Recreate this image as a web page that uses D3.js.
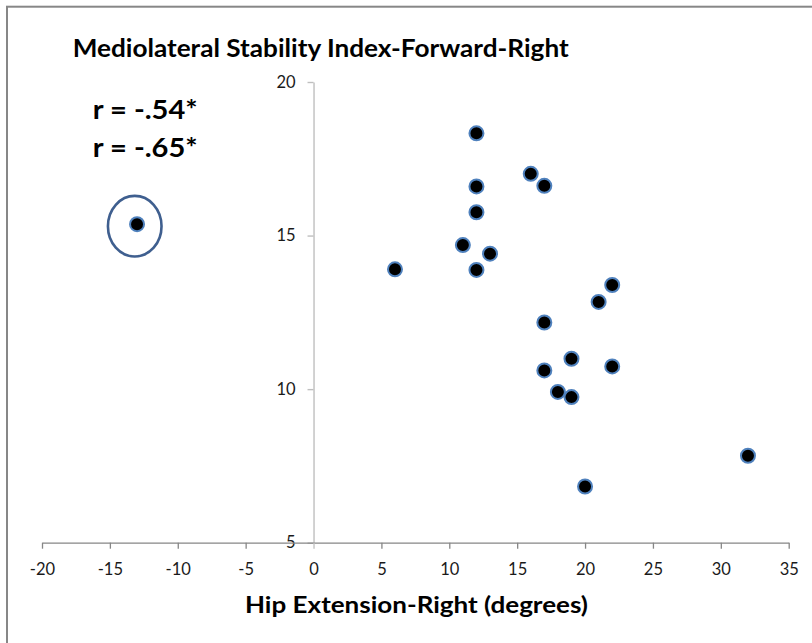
<!DOCTYPE html>
<html>
<head>
<meta charset="utf-8">
<script src="https://cdn.jsdelivr.net/npm/d3@7"></script>
<style>
  html, body { margin: 0; padding: 0; background: #fff; }
  svg { display: block; }
</style>
</head>
<body>
<div id="chart"></div>
<script>
// ---- data ----
const hipExtension = [-13, 6, 11, 12, 12, 12, 12, 13, 16, 17, 17, 17, 18, 19, 19, 20, 21, 22, 22, 32];
const stabilityIndex = [15.37, 13.90, 14.69, 18.33, 16.60, 15.76, 13.88, 14.41, 17.01, 16.62, 12.17, 10.61, 9.91, 10.99, 9.74, 6.83, 12.84, 13.39, 10.74, 7.83];
const xTicks = [-20, -15, -10, -5, 0, 5, 10, 15, 20, 25, 30, 35];
const yTicks = [5, 10, 15, 20];
const titleText = "Mediolateral Stability Index-Forward-Right";
const corrLabels = ["r = -.54*", "r = -.65*"];
const xAxisTitle = "Hip Extension-Right (degrees)";
const outlierIndex = 0;

// ---- layout ----
const W = 812, H = 643;
const svg = d3.select("#chart").append("svg").attr("width", W).attr("height", H);
svg.append("rect").attr("width", W).attr("height", H).attr("fill", "#fff");

// outer frame (only top and left visible)
svg.append("rect")
  .attr("x", 7).attr("y", 6.7).attr("width", W + 20).attr("height", H + 20)
  .attr("fill", "none").attr("stroke", "#878787").attr("stroke-width", 2);

const x = d3.scaleLinear().domain([-20, 35]).range([42, 788.7]);
const y = d3.scaleLinear().domain([5, 20]).range([542.7, 82]);

const tickFont = "Lato, 'Open Sans', sans-serif";

// y axis at x = 0 (lighter grey, extends below x axis like the original)
const gy = svg.append("g")
  .attr("transform", `translate(${x(0)},0)`)
  .call(d3.axisLeft(y).tickValues(yTicks).tickSize(6).tickSizeOuter(0).tickPadding(12).tickFormat(d3.format("d")));
// x axis at y = 5
const gx = svg.append("g")
  .attr("transform", `translate(0,${y(5)})`)
  .call(d3.axisBottom(x).tickValues(xTicks).tickSize(6).tickSizeOuter(0).tickPadding(14.5).tickFormat(d3.format("d")));

gy.select(".domain").attr("stroke", "#bfbfbf").attr("stroke-width", 1.4);
gy.selectAll(".tick line").attr("stroke", "#bfbfbf").attr("stroke-width", 1.4);
gx.select(".domain").attr("stroke", "#868686").attr("stroke-width", 1.3);
gx.selectAll(".tick line").attr("stroke", "#868686").attr("stroke-width", 1.3);
gx.selectAll(".tick").filter(d => d === 0).select("line").attr("stroke", "#bfbfbf");

[gx, gy].forEach(g => {
  g.attr("font-size", 16.5).attr("font-family", tickFont);
  g.selectAll(".tick text").attr("fill", "#1a1a1a")
    .attr("font-size", 16.5)
    .style("font-family", tickFont).style("font-size", "16.5px");
});
// hyphen-minus like the original
gx.selectAll(".tick text").text(d => String(d));

// points
svg.append("g").selectAll("circle")
  .data(hipExtension.map((v, i) => [v, stabilityIndex[i]]))
  .join("circle")
  .attr("cx", d => x(d[0]))
  .attr("cy", d => y(d[1]))
  .attr("r", 7)
  .attr("fill", "#000")
  .attr("stroke", "#4f81bd")
  .attr("stroke-width", 2);

// ellipse around outlier
svg.append("ellipse")
  .attr("cx", x(hipExtension[outlierIndex]) - 2.3)
  .attr("cy", y(stabilityIndex[outlierIndex]) + 2)
  .attr("rx", 26.8).attr("ry", 30.3)
  .attr("fill", "none").attr("stroke", "#3f5f8f").attr("stroke-width", 2.6);

const boldFont = "Lato, 'Open Sans', sans-serif";

// chart title
svg.append("text")
  .attr("x", 72.7).attr("y", 56.7)
  .attr("textLength", 496).attr("lengthAdjust", "spacingAndGlyphs")
  .style("font-family", boldFont).style("font-weight", "bold").style("font-size", "24px")
  .attr("fill", "#000").text(titleText);

// correlation labels
svg.append("g").selectAll("text")
  .data(corrLabels)
  .join("text")
  .attr("x", 92.7)
  .attr("y", (d, i) => 118.7 + i * 38)
  .attr("textLength", 105).attr("lengthAdjust", "spacingAndGlyphs")
  .style("font-family", boldFont).style("font-weight", "bold").style("font-size", "27px")
  .attr("fill", "#000").text(d => d);

// x axis title
svg.append("text")
  .attr("x", 245).attr("y", 613.3)
  .attr("textLength", 343).attr("lengthAdjust", "spacingAndGlyphs")
  .style("font-family", boldFont).style("font-weight", "bold").style("font-size", "23px")
  .attr("fill", "#000").text(xAxisTitle);
</script>
</body>
</html>
